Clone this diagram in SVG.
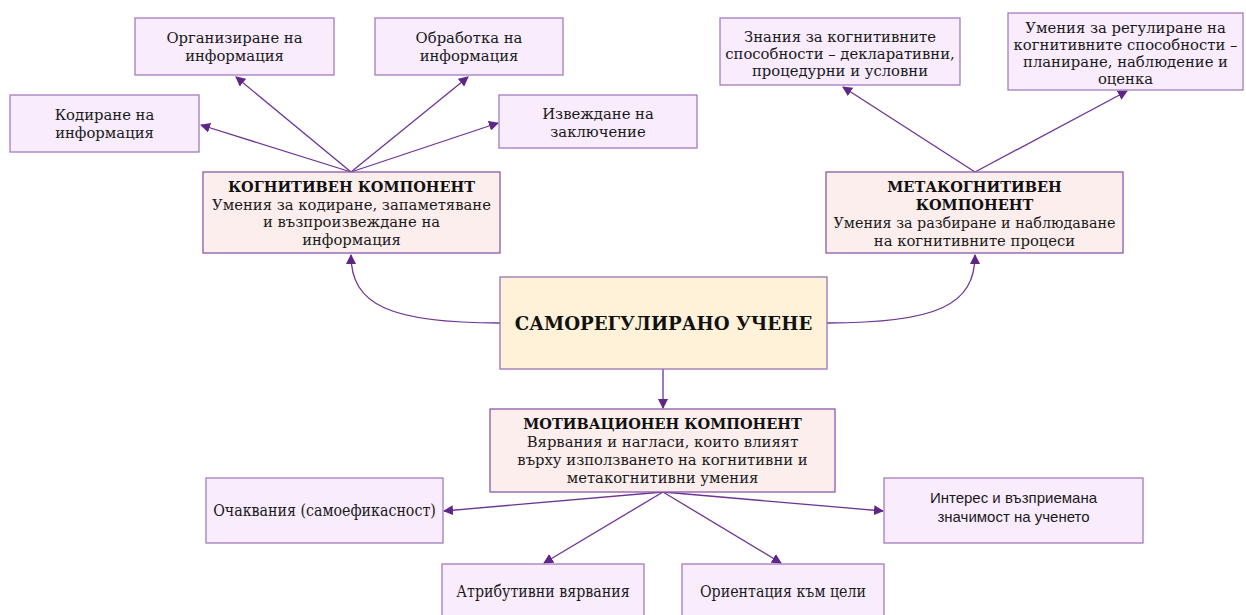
<svg xmlns="http://www.w3.org/2000/svg" width="1246" height="615" viewBox="0 0 1246 615">
<defs>
<style>
.leaf{fill:#f9ecfd;stroke:#a27cc0;stroke-width:1.3}
.comp{fill:#fdeeee;stroke:#8c5aa8;stroke-width:1.3}
.main{fill:#fff2d9;stroke:#9b72b8;stroke-width:1.3}
.t{font-family:"DejaVu Serif","Liberation Serif",serif;font-size:14.8px;fill:#1a1a1a;text-anchor:middle}
.tb{font-family:"DejaVu Serif","Liberation Serif",serif;font-size:14.5px;font-weight:bold;fill:#111;text-anchor:middle}
.tc{font-family:"DejaVu Serif Condensed","DejaVu Serif",serif;font-stretch:condensed;font-size:15.8px;fill:#1a1a1a;text-anchor:middle}
.ts{font-family:"Liberation Sans",Arial,sans-serif;font-size:15px;fill:#1a1a1a;text-anchor:middle}
.big{font-family:"DejaVu Serif","Liberation Serif",serif;font-size:18.2px;font-weight:bold;fill:#111;text-anchor:middle}
.c{fill:none;stroke:#6e3394;stroke-width:1.3;marker-end:url(#ah)}
</style>
<marker id="ah" viewBox="0 0 10 10" refX="9" refY="5" markerWidth="10" markerHeight="10" markerUnits="userSpaceOnUse" orient="auto">
<path d="M0,0 L10,5 L0,10 z" fill="#5f2687"/>
</marker>
</defs>
<g id="connectors">
<path class="c" d="M351,172 L201,125"/>
<path class="c" d="M351,172 L236,77"/>
<path class="c" d="M351,172 L468,77"/>
<path class="c" d="M351,172 L498,123"/>
<path class="c" d="M975,172 L843,87"/>
<path class="c" d="M975,172 L1127,91"/>
<path class="c" d="M500,323 C390,323 351,305 351,255"/>
<path class="c" d="M827,323 C937,323 975,305 975,255"/>
<path class="c" d="M663,369 L663,408"/>
<path class="c" d="M663,492 L444,511"/>
<path class="c" d="M663,492 L883,511"/>
<path class="c" d="M663,492 L544,563"/>
<path class="c" d="M663,492 L781,563"/>
</g>
<g id="n-organize"><rect class="leaf" x="135" y="18" width="199" height="57"/><text class="t" x="234.5" y="43">Организиране на</text><text class="t" x="234.5" y="61">информация</text></g>
<g id="n-process"><rect class="leaf" x="375" y="18" width="188" height="57"/><text class="t" x="469" y="43">Обработка на</text><text class="t" x="469" y="61">информация</text></g>
<g id="n-encode"><rect class="leaf" x="10" y="95" width="189" height="57"/><text class="t" x="104.5" y="120">Кодиране на</text><text class="t" x="104.5" y="138">информация</text></g>
<g id="n-infer"><rect class="leaf" x="499" y="95" width="198" height="53"/><text class="t" x="598" y="119">Извеждане на</text><text class="t" x="598" y="137">заключение</text></g>
<g id="n-knowledge"><rect class="leaf" x="720" y="18" width="240" height="67"/><text class="t" x="840" y="42">Знания за когнитивните</text><text class="t" x="840" y="59">способности – декларативни,</text><text class="t" x="840" y="76">процедурни и условни</text></g>
<g id="n-regulation"><rect class="leaf" x="1008" y="13" width="235" height="77"/><text class="t" x="1125.5" y="33">Умения за регулиране на</text><text class="t" x="1125.5" y="50">когнитивните способности –</text><text class="t" x="1125.5" y="67">планиране, наблюдение и</text><text class="t" x="1125.5" y="84">оценка</text></g>
<g id="n-cognitive"><rect class="comp" x="203" y="172" width="297" height="81"/><text class="tb" x="351.5" y="192">КОГНИТИВЕН КОМПОНЕНТ</text><text class="t" x="351.5" y="210">Умения за кодиране, запаметяване</text><text class="t" x="351.5" y="227">и възпроизвеждане на</text><text class="t" x="351.5" y="245">информация</text></g>
<g id="n-metacognitive"><rect class="comp" x="826" y="172" width="297" height="81"/><text class="tb" x="974.5" y="192">МЕТАКОГНИТИВЕН</text><text class="tb" x="974.5" y="210">КОМПОНЕНТ</text><text class="t" x="974.5" y="228" textLength="282" lengthAdjust="spacingAndGlyphs">Умения за разбиране и наблюдаване</text><text class="t" x="974.5" y="246">на когнитивните процеси</text></g>
<g id="n-srl"><rect class="main" x="500" y="277" width="327" height="92"/><text class="big" x="663.5" y="330">САМОРЕГУЛИРАНО УЧЕНЕ</text></g>
<g id="n-motivational"><rect class="comp" x="490" y="409" width="345" height="83"/><text class="tb" x="662.5" y="429">МОТИВАЦИОНЕН КОМПОНЕНТ</text><text class="t" x="662.5" y="447">Вярвания и нагласи, които влияят</text><text class="t" x="662.5" y="465">върху използването на когнитивни и</text><text class="t" x="662.5" y="483">метакогнитивни умения</text></g>
<g id="n-expect"><rect class="leaf" x="206" y="478" width="237" height="65"/><text class="tc" x="324.5" y="516">Очаквания (самоефикасност)</text></g>
<g id="n-interest"><rect class="leaf" x="884" y="478" width="259" height="65"/><text class="ts" x="1013.5" y="503">Интерес и възприемана</text><text class="ts" x="1013.5" y="522">значимост на ученето</text></g>
<g id="n-attrib"><rect class="leaf" x="442" y="564" width="202" height="60"/><text class="tc" x="543" y="597">Атрибутивни вярвания</text></g>
<g id="n-goal"><rect class="leaf" x="682" y="564" width="202" height="60"/><text class="tc" x="783" y="597">Ориентация към цели</text></g>
</svg>
